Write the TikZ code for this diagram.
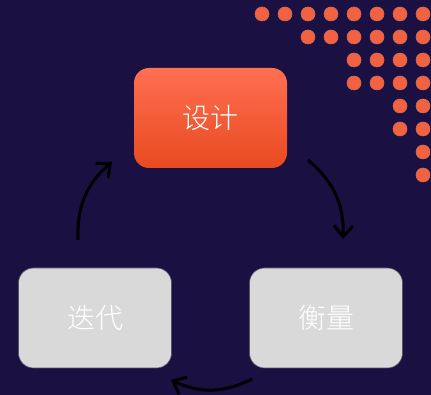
\documentclass[tikz,border=0pt]{standalone}
\usepackage{fontspec}
\newfontfamily\cjk[UprightFont={* Light}]{Noto Sans CJK SC}
\usetikzlibrary{arrows.meta}
\definecolor{bg}{HTML}{1A1042}
\definecolor{dotc}{HTML}{F26140}
\definecolor{topA}{HTML}{FF6F52}
\definecolor{topB}{HTML}{E84A20}
\definecolor{boxg}{HTML}{D9D9D9}
\tikzset{
  dotsty/.style={fill=dotc, draw=dotc!70!gray, line width=0.6pt},
  topbox/.style={rounded corners=15pt, minimum width=153pt, minimum height=100pt, top color=topA, bottom color=topB, draw=none, text=white, font=\cjk\fontsize{28}{28}\selectfont},
  greybox/.style={rounded corners=15pt, minimum width=153pt, minimum height=100pt, fill=boxg, draw=gray!60!bg, line width=0.6pt, text=white, font=\cjk\fontsize{28}{28}\selectfont},
  cyc/.style={line width=3pt, black, -{Straight Barb[length=11pt,width=19pt,line width=3pt]}, bend left=26}
}
\begin{document}
\begin{tikzpicture}[x=1pt,y=1pt]
\fill[bg] (0,0) rectangle (431,395);
\useasboundingbox (0,0) rectangle (431,395);
% dots
\foreach \row/\start in {0/0,1/2,2/4,3/4,4/6,5/6,6/7,7/7}{
  \foreach \i in {\start,...,7}{
    \fill[dotsty] (262+23*\i, 395-14-23*\row) circle (7);
  }
}
\node[topbox] (design) at (210.5,277) {设计};
\node[greybox] (iter) at (95,77) {迭代};
\node[greybox] (meas) at (326,77) {衡量};
\coordinate (a1s) at (308,235);
\coordinate (a1e) at (343,156);
\coordinate (a2s) at (252,16);
\coordinate (a2e) at (171,15);
\coordinate (a3s) at (78,155);
\coordinate (a3e) at (112,233);
\draw[cyc] (a1s) to (a1e);
\draw[cyc] (a2s) to (a2e);
\draw[cyc] (a3s) to (a3e);
\end{tikzpicture}
\end{document}
